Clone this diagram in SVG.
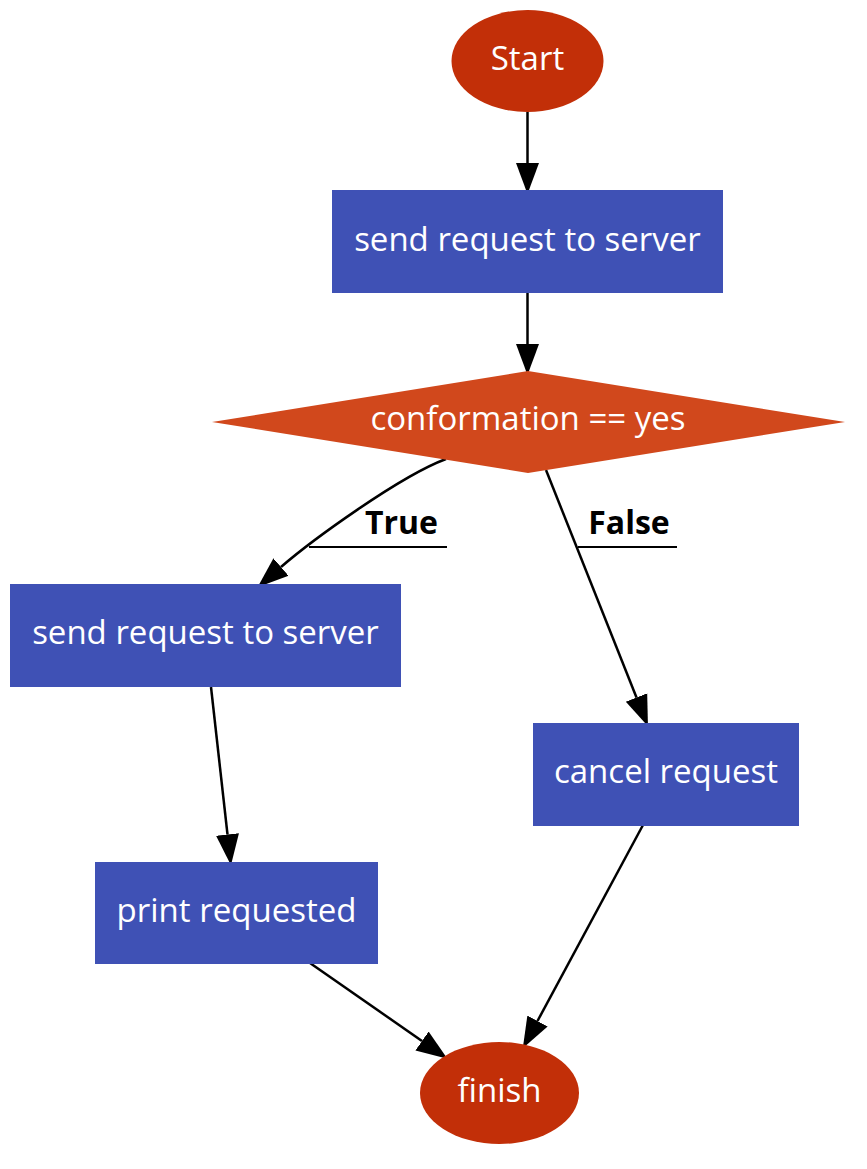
<svg xmlns="http://www.w3.org/2000/svg" width="867" height="1169" viewBox="0 0 867 1169">
<style>
.bg{fill:#ffffff}
.term{fill:#C22F08}
.dec{fill:#D1481C}
.proc{fill:#3F51B5}
.nt{font-family:"Open Sans","Noto Sans","DejaVu Sans",sans-serif;font-size:33px;fill:#ffffff;text-anchor:middle}
.lbl{font-family:"Open Sans","Noto Sans","DejaVu Sans",sans-serif;font-size:32px;font-weight:bold;fill:#000000;text-anchor:middle}
.edge{fill:none;stroke:#000000;stroke-width:2.5}
.ul{stroke:#000000;stroke-width:2}
</style>
<defs>
<marker id="arrow" markerUnits="userSpaceOnUse" markerWidth="34" markerHeight="26" viewBox="0 -13 34 26" refX="0" refY="0" orient="auto">
<path d="M0,-11.5 L31,0 L0,11.5 Z" fill="#000000"/>
</marker>
</defs>
<rect class="bg" x="0" y="0" width="867" height="1169"/>
<g id="connectors">
<path id="e1" class="edge" d="M527.5,112 L527.5,163" marker-end="url(#arrow)"/>
<path id="e2" class="edge" d="M527.5,293 L527.5,344" marker-end="url(#arrow)"/>
<path id="e3" class="edge" d="M446,459 C400,476 311,541 281,567" marker-end="url(#arrow)"/>
<path id="e4" class="edge" d="M546,470 L636.5,697.5" marker-end="url(#arrow)"/>
<path id="e5" class="edge" d="M211,687 L227.5,834.5" marker-end="url(#arrow)"/>
<path id="e6" class="edge" d="M310,963 L422,1041" marker-end="url(#arrow)"/>
<path id="e7" class="edge" d="M643,825 L537.5,1021" marker-end="url(#arrow)"/>
<g id="label-true">
<text class="lbl" x="401.5" y="534">True</text>
<line class="ul" x1="309" y1="547" x2="447" y2="547"/>
</g>
<g id="label-false">
<text class="lbl" x="629" y="534">False</text>
<line class="ul" x1="578" y1="547" x2="677" y2="547"/>
</g>
</g>
<g id="start">
<ellipse class="term" cx="527.5" cy="61" rx="76" ry="51"/>
<text class="nt" x="527.5" y="70">Start</text>
</g>
<g id="send1">
<rect class="proc" x="332" y="190" width="391" height="103"/>
<text class="nt" x="527.5" y="251">send request to server</text>
</g>
<g id="decision">
<polygon class="dec" points="528,371 845,422 528,473 212,422"/>
<text class="nt" x="528" y="430">conformation == yes</text>
</g>
<g id="send2">
<rect class="proc" x="10" y="584" width="391" height="103"/>
<text class="nt" x="205.5" y="644">send request to server</text>
</g>
<g id="cancel">
<rect class="proc" x="533" y="723" width="266" height="103"/>
<text class="nt" x="666" y="783">cancel request</text>
</g>
<g id="print">
<rect class="proc" x="95" y="862" width="283" height="102"/>
<text class="nt" x="236.5" y="922">print requested</text>
</g>
<g id="finish">
<ellipse class="term" cx="499.5" cy="1093" rx="79.5" ry="51"/>
<text class="nt" x="499.5" y="1102">finish</text>
</g>
</svg>
